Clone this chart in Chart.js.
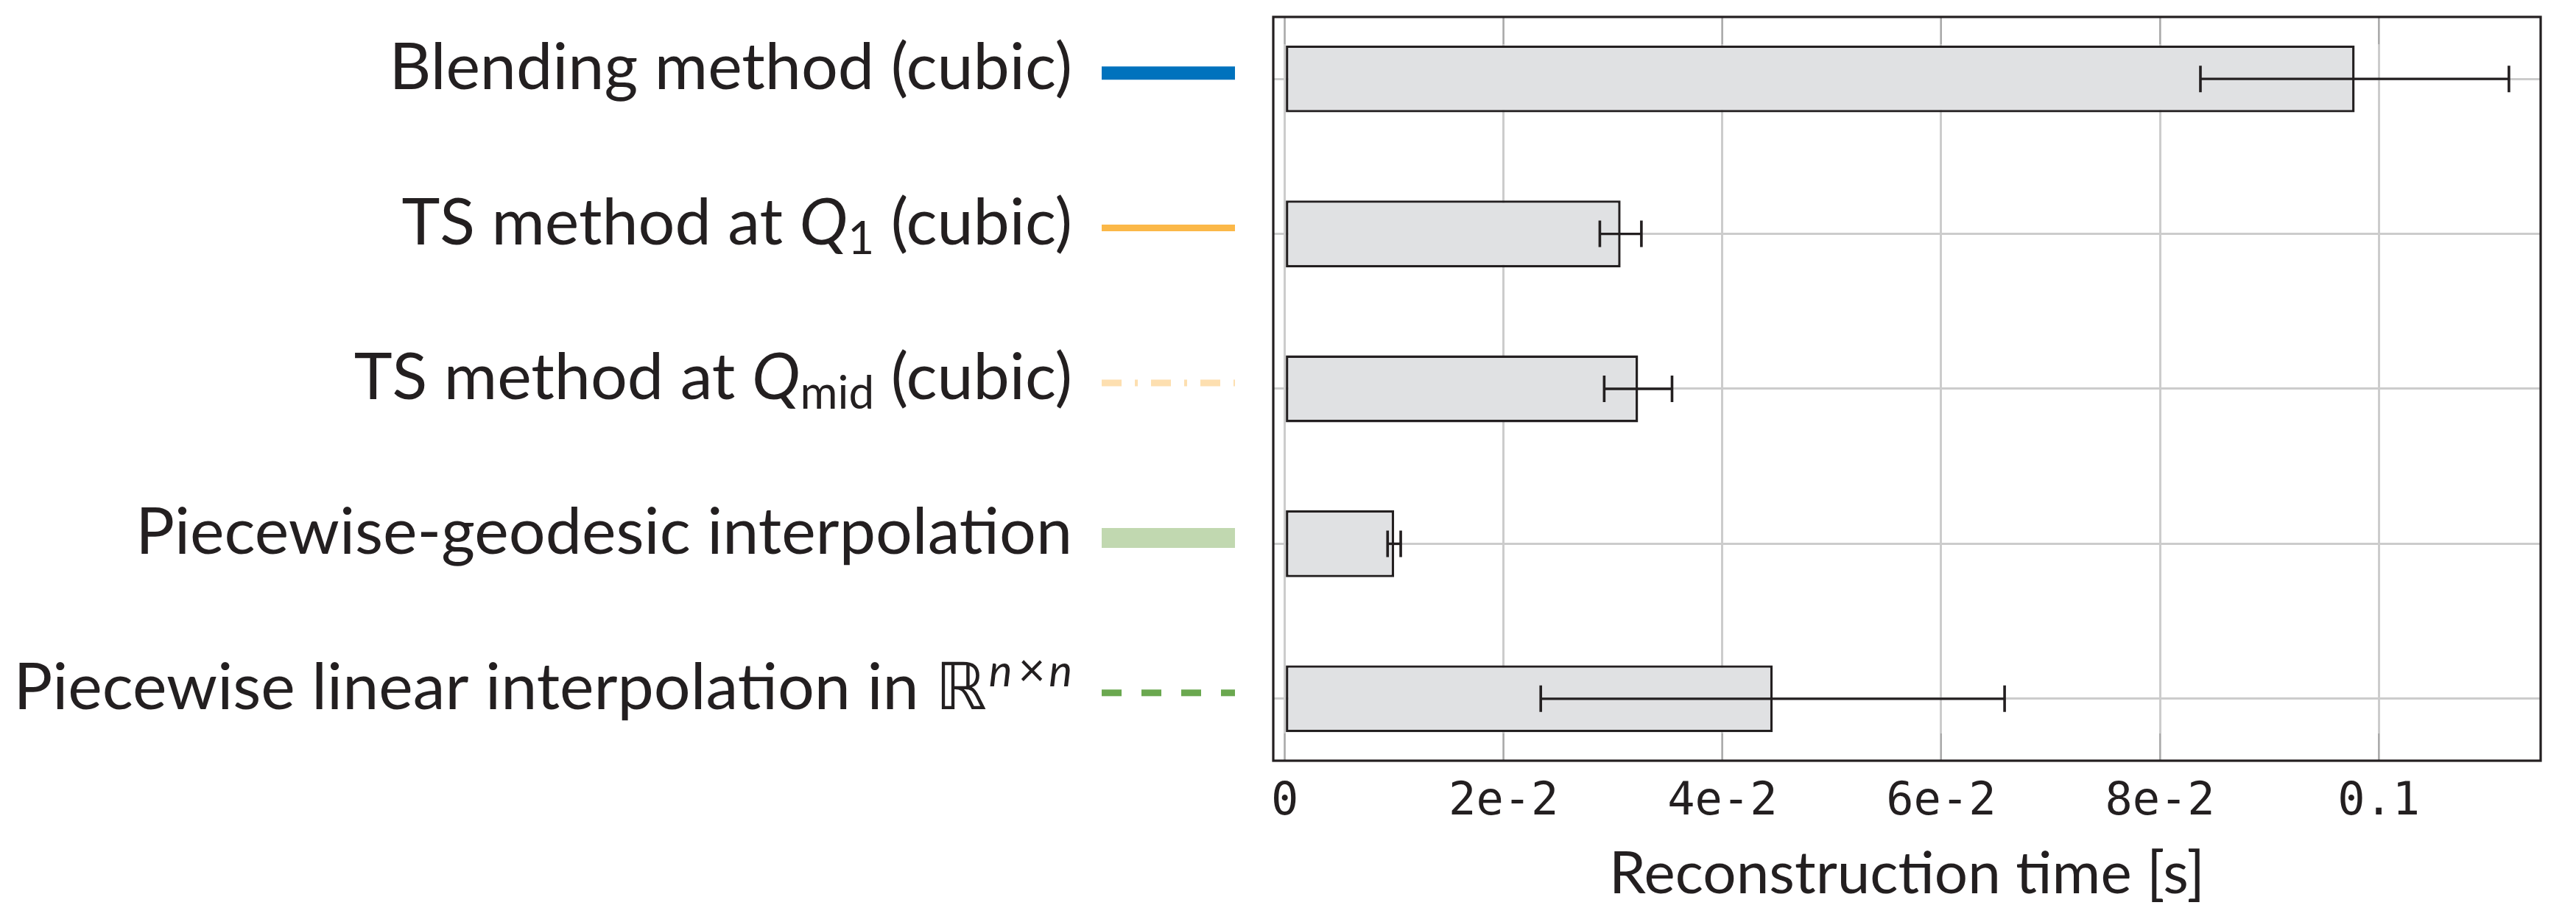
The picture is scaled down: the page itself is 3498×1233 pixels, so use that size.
<!DOCTYPE html>
<html>
<head>
<meta charset="utf-8">
<script src="https://cdn.jsdelivr.net/npm/chart.js@4.4.1/dist/chart.umd.min.js"></script>
<style>
  html, body { margin: 0; padding: 0; background: #ffffff; }
  #wrap { width: 3498px; height: 1233px; }
</style>
</head>
<body>
<div id="wrap"><canvas id="c" width="3498" height="1233"></canvas></div>
<script>
// ---------------- data ----------------
const categories = [
  "Blending method (cubic)",
  "TS method at Q1 (cubic)",
  "TS method at Qmid (cubic)",
  "Piecewise-geodesic interpolation",
  "Piecewise linear interpolation in \u211Dn\u00D7n"
];
const times      = [0.0978, 0.0307, 0.0323, 0.0100, 0.0446];
const timeErrors = [0.0141, 0.0019, 0.0031, 0.0006, 0.0212];
const tickValues = [0, 0.02, 0.04, 0.06, 0.08, 0.1];
const tickLabels = ["0", "2e-2", "4e-2", "6e-2", "8e-2", "0.1"];
const axisTitle  = "Reconstruction time [s]";

// rich-text rendering of the category labels (math parts)
const labelParts = [
  [{t: "Blending method (cubic)"}],
  [{t: "TS method at "}, {t: "Q", it: true}, {t: "1", s: 0.7, dy: 13}, {t: " (cubic)"}],
  [{t: "TS method at "}, {t: "Q", it: true}, {t: "mid", s: 0.7, dy: 13}, {t: " (cubic)"}],
  [{t: "Piecewise-geodesic interpolation"}],
  [{t: "Piecewise linear interpolation in "}, {t: "\u211D", fam: "DejaVu Sans"},
   {t: "n", it: true, s: 0.68, dy: -31, pad: 3}, {t: "\u00D7", s: 0.72, dy: -31, pad: 5}, {t: "n", it: true, s: 0.68, dy: -31}]
];

// legend-like line samples next to each label
const sampleColors = ["#0072bd", "#fbb848", "#fddfb0", "#c1d8b0", "#6aa84f"];
const sampleWidths = [18, 9, 9, 27, 9];
const sampleDashes = [[], [], [27, 18, 4, 18], [], [27, 27]];

// ---------------- styles ----------------
const INK = "#231f20";
const GRID = "#cccccc";
const LABEL_FONT = "Lato";
const LABEL_SIZE = 88;

const decoPlugin = {
  id: "deco",
  beforeDraw(chart) {
    const ctx = chart.ctx;
    ctx.save();
    ctx.fillStyle = "#ffffff";
    ctx.fillRect(0, 0, chart.width, chart.height);
    ctx.restore();
  },
  beforeDatasetsDraw(chart) {
    const {ctx, chartArea: a, scales: {x}} = chart;
    ctx.save();
    ctx.strokeStyle = "#a9a9a9";
    ctx.lineWidth = 2;
    tickValues.forEach(v => {
      const px = x.getPixelForValue(v);
      ctx.beginPath();
      ctx.moveTo(px, a.top); ctx.lineTo(px, a.top + 37);
      ctx.moveTo(px, a.bottom); ctx.lineTo(px, a.bottom - 37);
      ctx.stroke();
    });
    ctx.restore();
  },
  afterDatasetsDraw(chart) {
    const {ctx, scales: {x, y}} = chart;
    ctx.save();
    ctx.strokeStyle = INK;
    ctx.lineCap = "butt";
    times.forEach((v, i) => {
      const py = y.getPixelForValue(i);
      const x0 = x.getPixelForValue(v - timeErrors[i]);
      const x1 = x.getPixelForValue(v + timeErrors[i]);
      ctx.lineWidth = 3.4;
      ctx.beginPath(); ctx.moveTo(x0, py); ctx.lineTo(x1, py); ctx.stroke();
      ctx.lineWidth = 3.6;
      ctx.beginPath();
      ctx.moveTo(x0, py - 18); ctx.lineTo(x0, py + 18);
      ctx.moveTo(x1, py - 18); ctx.lineTo(x1, py + 18);
      ctx.stroke();
    });
    ctx.restore();
  },
  afterDraw(chart) {
    const {ctx, chartArea: a, scales: {y}} = chart;
    ctx.save();
    // frame
    ctx.strokeStyle = INK;
    ctx.lineWidth = 3.2;
    ctx.strokeRect(a.left, a.top, a.right - a.left, a.bottom - a.top);

    // labels + samples
    const textRight = a.left - 273;
    const sampleStart = a.left - 233;
    const sampleEnd = a.left - 52;
    labelParts.forEach((parts, i) => {
      const yc = y.getPixelForValue(i) - 8;
      // sample line
      ctx.save();
      ctx.strokeStyle = sampleColors[i];
      ctx.lineWidth = sampleWidths[i];
      ctx.lineCap = "butt";
      ctx.setLineDash(sampleDashes[i]);
      ctx.beginPath(); ctx.moveTo(sampleStart, yc); ctx.lineTo(sampleEnd, yc); ctx.stroke();
      ctx.restore();

      // text
      const base = yc + 22;
      const fontOf = p => `${p.it ? "italic " : ""}${Math.round(LABEL_SIZE * (p.s || 1))}px "${p.fam || LABEL_FONT}"`;
      const widthOf = p => { ctx.font = fontOf(p); return ctx.measureText(p.t).width + 2 * (p.pad || 0); };
      let total = 0;
      parts.forEach(p => { total += widthOf(p); });
      let cx = textRight - total;
      ctx.fillStyle = INK;
      ctx.textBaseline = "alphabetic";
      ctx.textAlign = "left";
      parts.forEach(p => {
        const w = widthOf(p);
        ctx.font = fontOf(p);
        ctx.fillText(p.t, cx + (p.pad || 0), base + (p.dy || 0));
        cx += w;
      });
    });
    ctx.restore();
  }
};

new Chart(document.getElementById("c"), {
  type: "bar",
  data: {
    labels: categories,
    datasets: [{
      label: "Reconstruction time",
      data: times.map((v, i) => ({x: v, y: i})),
      backgroundColor: "#e0e1e3",
      borderColor: INK,
      borderWidth: 3.4,
      borderSkipped: false,
      barPercentage: 0.432,
      categoryPercentage: 1
    }]
  },
  options: {
    indexAxis: "y",
    responsive: false,
    devicePixelRatio: 1,
    animation: false,
    layout: {padding: {left: 0, top: 23, right: 48, bottom: 0}},
    plugins: {legend: {display: false}, tooltip: {enabled: false}},
    scales: {
      x: {
        type: "linear",
        position: "bottom",
        min: -0.00105,
        max: 0.1148,
        offset: false,
        afterBuildTicks: s => { s.ticks = tickValues.map(v => ({value: v})); },
        afterFit: s => { s.height = 200; },
        border: {display: false},
        grid: {color: GRID, lineWidth: 3, drawTicks: false, offset: false},
        ticks: {
          autoSkip: false, maxRotation: 0, padding: 26,
          color: INK,
          font: {family: "DejaVu Sans Mono", size: 62, lineHeight: 1},
          callback: (v, i) => tickLabels[i]
        },
        title: {
          display: true, text: axisTitle, color: INK,
          font: {family: LABEL_FONT, size: 80, lineHeight: 1},
          padding: {top: 0, bottom: 6}
        }
      },
      y: {
        type: "linear",
        reverse: true,
        min: -0.4,
        max: 4.4,
        offset: false,
        afterBuildTicks: s => { s.ticks = categories.map((c, i) => ({value: i})); },
        afterFit: s => { s.width = 1729; },
        border: {display: false},
        grid: {color: GRID, lineWidth: 3, drawTicks: false, offset: false},
        ticks: {display: false}
      }
    }
  },
  plugins: [decoPlugin]
});
</script>
</body>
</html>
